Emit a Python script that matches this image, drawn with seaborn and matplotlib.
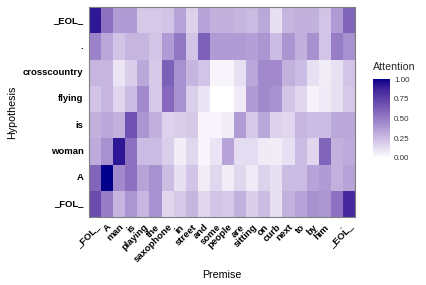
import numpy as np
import pandas as pd
import matplotlib
matplotlib.use("Agg")
import matplotlib.pyplot as plt
from matplotlib.colors import ListedColormap
import seaborn as sns

premise = ["_FOL_", "A", "man", "is", "playing", "the", "saxophone", "in",
           "street", "and", "some", "people", "are", "sitting", "on", "curb",
           "next", "to", "by", "him", ".", "_EOL_"]
# top to bottom, as shown
hypothesis = ["_EOL_", ".", "crosscountry", "flying", "is", "woman", "A", "_FOL_"]

att_eol = [0.92, 0.55, 0.38, 0.38, 0.20, 0.20, 0.22, 0.35, 0.17, 0.35, 0.30,
           0.30, 0.28, 0.25, 0.33, 0.12, 0.28, 0.30, 0.30, 0.22, 0.38, 0.60]
att_dot = [0.48, 0.33, 0.22, 0.28, 0.28, 0.22, 0.38, 0.52, 0.22, 0.62, 0.38,
           0.38, 0.38, 0.36, 0.40, 0.25, 0.40, 0.30, 0.42, 0.22, 0.50, 0.42]
att_cross = [0.28, 0.28, 0.10, 0.18, 0.33, 0.20, 0.62, 0.42, 0.28, 0.22, 0.04,
             0.04, 0.12, 0.33, 0.45, 0.45, 0.30, 0.25, 0.12, 0.07, 0.12, 0.22]
att_flying = [0.22, 0.28, 0.15, 0.25, 0.45, 0.20, 0.58, 0.42, 0.18, 0.10, 0.00,
              0.00, 0.08, 0.38, 0.45, 0.42, 0.22, 0.15, 0.05, 0.08, 0.12, 0.20]
att_is = [0.30, 0.33, 0.30, 0.68, 0.40, 0.30, 0.17, 0.18, 0.20, 0.04, 0.04,
          0.07, 0.38, 0.20, 0.33, 0.17, 0.15, 0.28, 0.25, 0.25, 0.33, 0.33]
att_woman = [0.32, 0.42, 0.92, 0.55, 0.25, 0.25, 0.18, 0.07, 0.15, 0.04, 0.10,
             0.35, 0.13, 0.13, 0.08, 0.07, 0.12, 0.25, 0.15, 0.60, 0.30, 0.32]
att_a = [0.60, 1.00, 0.45, 0.55, 0.35, 0.42, 0.25, 0.12, 0.22, 0.07, 0.15,
         0.07, 0.15, 0.08, 0.17, 0.12, 0.25, 0.25, 0.35, 0.38, 0.30, 0.35]
att_fol = [0.70, 0.50, 0.28, 0.40, 0.27, 0.42, 0.15, 0.20, 0.28, 0.15, 0.22,
           0.20, 0.30, 0.18, 0.25, 0.12, 0.30, 0.35, 0.42, 0.40, 0.55, 0.85]


# white -> darkblue, interpolated in CIELAB (like ggplot's gradient)
WHITE_REF = np.array([0.95047, 1.0, 1.08883])
M = np.array([[0.4124, 0.3576, 0.1805],
              [0.2126, 0.7152, 0.0722],
              [0.0193, 0.1192, 0.9505]])


def rgb2lab(rgb):
    c = np.asarray(rgb, float)
    lin = np.where(c <= 0.04045, c / 12.92, ((c + 0.055) / 1.055) ** 2.4)
    xyz = M @ lin / WHITE_REF
    d = 6 / 29
    f = np.where(xyz > d ** 3, np.cbrt(xyz), xyz / (3 * d * d) + 4 / 29)
    return np.array([116 * f[1] - 16, 500 * (f[0] - f[1]), 200 * (f[1] - f[2])])


def lab2rgb(lab):
    L, a, b = lab
    fy = (L + 16) / 116
    f = np.array([fy + a / 500, fy, fy - b / 200])
    d = 6 / 29
    xyz = np.where(f > d, f ** 3, 3 * d * d * (f - 4 / 29)) * WHITE_REF
    lin = np.linalg.solve(M, xyz)
    c = np.where(lin <= 0.0031308, 12.92 * lin, 1.055 * np.clip(lin, 0, None) ** (1 / 2.4) - 0.055)
    return np.clip(c, 0, 1)


lo = rgb2lab([1, 1, 1])
hi = rgb2lab([0, 0, 139 / 255])
cmap = ListedColormap([lab2rgb(lo + t * (hi - lo)) for t in np.linspace(0, 1, 256)])

df = pd.DataFrame([att_eol, att_dot, att_cross, att_flying, att_is,
                   att_woman, att_a, att_fol],
                  index=hypothesis, columns=premise)

sns.set_theme(style="white")
plt.rcParams['font.family'] = ['Liberation Sans', 'DejaVu Sans']

W, H = 427, 285
fig = plt.figure(figsize=(W / 100, H / 100), dpi=100)
ax = fig.add_axes([89 / W, 1 - 217 / H, 266 / W, 210 / H])
cax = fig.add_axes([373 / W, 1 - 158 / H, 17 / W, 79 / H])

sns.heatmap(df, cmap=cmap, vmin=0, vmax=1, ax=ax, cbar_ax=cax, linewidths=0,
            xticklabels=True, yticklabels=True)

for s in ax.spines.values():
    s.set_visible(True)
    s.set_color('#7f7f7f')
    s.set_linewidth(0.8)

ax.tick_params(length=2.5, width=0.6, color='#333333', pad=1.5)
ax.set_xticklabels(premise, rotation=45, ha='right', va='top',
                   rotation_mode='anchor', fontsize=6.8, fontweight='bold',
                   color='black')
ax.set_yticklabels(hypothesis, rotation=0, fontsize=6.8, fontweight='bold',
                   color='black')

ax.set_xlabel("Premise", fontsize=7.7, color='black')
ax.set_ylabel("Hypothesis", fontsize=7.7, color='black')
ax.xaxis.set_label_coords(0.5, -0.25)
ax.yaxis.set_label_coords(-0.269, 0.5)

cbar = ax.collections[0].colorbar
cbar.outline.set_visible(False)
cbar.set_ticks([0, 0.25, 0.5, 0.75, 1.0])
cbar.set_ticklabels(["0.00", "0.25", "0.50", "0.75", "1.00"])
cax.tick_params(left=True, right=True, direction='in', color='white',
                length=3, width=0.6, labelsize=5.8, labelcolor='#333333', pad=3)
fig.text(373 / W, 1 - 67 / H, "Attention", fontsize=7.7, ha='left', va='center')

fig.savefig("out.png", dpi=100)
